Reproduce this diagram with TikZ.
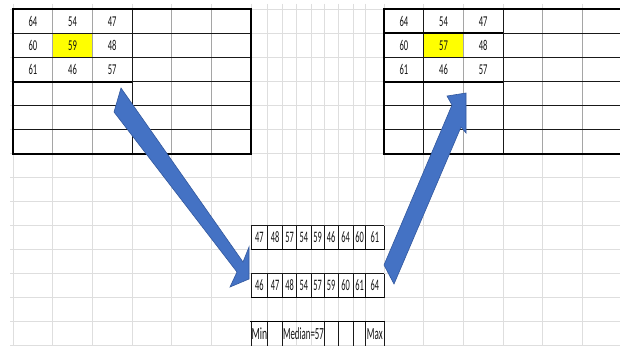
\documentclass[tikz,border=0pt]{standalone}
\usepackage{fontspec}
\setmainfont{Carlito}
\usepackage{graphicx}
\definecolor{gridc}{RGB}{222,222,222}
\definecolor{tgray}{RGB}{165,165,165}
\definecolor{arrfill}{RGB}{68,114,196}
\definecolor{arrline}{RGB}{50,88,158}
\definecolor{txt}{RGB}{20,20,20}
\definecolor{hl}{RGB}{255,255,0}
\newcommand\sqz[2][0.57]{\scalebox{#1}[1]{#2}}
\begin{document}
\begin{tikzpicture}[x=1pt,y=-1pt,
  gridline/.style={draw=gridc, line width=0.9pt},
  thinb/.style={draw=black!90, line width=0.9pt},
  thickb/.style={draw=black, line width=2pt},
  graysep/.style={draw=tgray, line width=1.2pt},
  cell/.style={font=\fontsize{15}{15}\selectfont, text=txt, inner sep=0pt},
  mcell/.style={font=\fontsize{16}{16}\selectfont, text=txt, inner sep=0pt},
  bcell/.style={font=\fontsize{17}{17}\selectfont, text=txt, inner sep=0pt},
  blockarrow/.style={fill=arrfill, draw=arrline, line width=0.6pt, line join=miter}]
\useasboundingbox (0,0) rectangle (620,345);
\fill[white] (0,0) rectangle (620,345);
\clip (0,0) rectangle (620,345);

% spreadsheet grid
\foreach \k in {0,...,14} \draw[gridline] (10,{9.5+24*\k}) -- (620,{9.5+24*\k});
\foreach \xx in {13,52.7,92.3,132,171.7,211.3,251,267.7,282.3,296.7,311,324,338,353.3,365.7,384,423.7,463.3,503,542.7,582.3}
  \draw[gridline] (\xx,4) -- (\xx,345);

% left table
\fill[hl] (52.7,33.5) rectangle (92.3,57.5);
\foreach \xx in {52.7,92.3,171.7,211.3} \draw[graysep] (\xx,9.5) -- (\xx,153.5);
\draw[thinb] (132,9.5) -- (132,153.5);
\foreach \yy in {33.5,57.5,105.5,129.5} \draw[thinb] (13,\yy) -- (251,\yy);
\draw[thinb] (132,81.5) -- (251,81.5);
\draw[thickb] (13,81.5) -- (132,81.5);
\draw[thickb] (13,9.5) rectangle (251,153.5);

% right table
\fill[hl] (423.7,33.5) rectangle (463.3,57.5);
\foreach \xx in {463.3,542.7,582.3} \draw[graysep] (\xx,9.5) -- (\xx,153.5);
\draw[thinb] (423.7,9.5) -- (423.7,153.5);
\draw[thinb] (503,9.5) -- (503,153.5);
\foreach \yy in {57.5,105.5,129.5} \draw[thinb] (384,\yy) -- (622,\yy);
\draw[thinb] (503,33.5) -- (622,33.5);
\draw[thinb] (503,81.5) -- (622,81.5);
\draw[thickb] (384,33.5) -- (503,33.5);
\draw[thickb] (384,81.5) -- (503,81.5);
\draw[thickb] (384,9.5) rectangle (624,153.5);

% middle tables
\foreach \ty in {225.5,273.5} {
  \foreach \xx in {267.7,282.3,296.7,311,324,338,353.3,365.7}
    \draw[thinb, line width=0.7pt] (\xx,\ty) -- (\xx,\ty+24);
  \draw[thinb] (251,\ty) -- (384,\ty);
  \draw[thinb] (251,\ty) -- (251,\ty+24);
  \draw[thinb] (384,\ty) -- (384,\ty+24);
  \draw[draw=black, line width=1.3pt] (251,\ty+24) -- (384,\ty+24);
}
\foreach \xx in {251,267.7,282.3,324,338,353.3,365.7,384}
  \draw[thinb] (\xx,321.5) -- (\xx,346);
\draw[draw=black, line width=1.6pt] (250.2,321.5) -- (384.8,321.5);

% arrows
\coordinate (la1) at (121,88);
\coordinate (la2) at (114,112);
\draw[blockarrow] (la1) -- (243,262) -- (249,247) -- (249,279) -- (230,287) -- (237,272) -- (la2) -- cycle;
\coordinate (ra1) at (384,265);
\coordinate (ra2) at (394,284);
\draw[blockarrow] (ra1) -- (452,105) -- (447,96) -- (466,93) -- (466,133) -- (461,127) -- (ra2) -- cycle;

% left table text
\foreach \v [count=\c] in {64,54,47} \node[cell] (L1\c) at ({13+39.67*(\c-0.5)},21.5) {\sqz{\v}};
\foreach \v [count=\c] in {60,59,48} \node[cell] (L2\c) at ({13+39.67*(\c-0.5)},45.5) {\sqz{\v}};
\foreach \v [count=\c] in {61,46,57} \node[cell] (L3\c) at ({13+39.67*(\c-0.5)},69.5) {\sqz{\v}};
% right table text
\foreach \v [count=\c] in {64,54,47} \node[cell] (R1\c) at ({384+39.67*(\c-0.5)},21.5) {\sqz{\v}};
\foreach \v [count=\c] in {60,57,48} \node[cell] (R2\c) at ({384+39.67*(\c-0.5)},45.5) {\sqz{\v}};
\foreach \v [count=\c] in {61,46,57} \node[cell] (R3\c) at ({384+39.67*(\c-0.5)},69.5) {\sqz{\v}};
% middle text
\foreach \xx/\v [count=\c] in {259.3/47,275/48,289.5/57,303.8/54,317.5/59,331/46,345.7/64,359.5/60,374.8/61}
  \node[mcell] (M1\c) at (\xx,237.5) {\sqz[0.52]{\v}};
\foreach \xx/\v [count=\c] in {259.3/46,275/47,289.5/48,303.8/54,317.5/57,331/59,345.7/60,359.5/61,374.8/64}
  \node[mcell] (M2\c) at (\xx,285.5) {\sqz[0.52]{\v}};
\node[bcell] (mn) at (259.5,334) {\sqz[0.57]{Min}};
\node[bcell, anchor=west] (md) at (282.8,334) {\sqz[0.52]{Median=57}};
\node[bcell] (mx) at (374.8,334) {\sqz[0.53]{Max}};
\end{tikzpicture}
\end{document}
